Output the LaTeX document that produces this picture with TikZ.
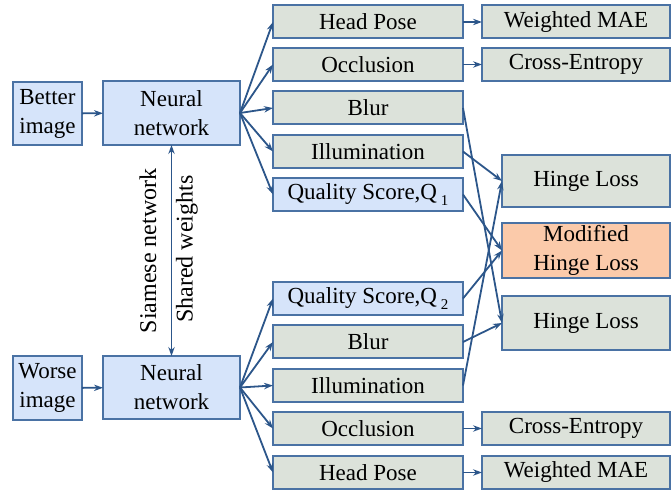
\documentclass[tikz,border=0pt]{standalone}
\usepackage{fontspec}
\setmainfont{Liberation Serif}
\usetikzlibrary{arrows.meta}
\definecolor{bfill}{RGB}{214,228,250}
\definecolor{gfill}{RGB}{220,226,218}
\definecolor{ofill}{RGB}{251,202,170}
\definecolor{edge}{RGB}{74,114,164}
\definecolor{wire}{RGB}{44,86,138}
\tikzset{
  box/.style={draw=edge, line width=1pt, inner sep=0pt, outer sep=0pt, align=center,
    font=\fontsize{11.5}{14.5}\selectfont},
  bluebox/.style={box, fill=bfill},
  graybox/.style={box, fill=gfill},
  orangebox/.style={box, fill=ofill},
  midbox/.style={minimum width=95pt, minimum height=16.5pt},
  rightbox/.style={minimum width=94pt, minimum height=16.5pt},
  hingebox/.style={minimum width=84pt},
  wirearrow/.style={draw=wire, line width=0.9pt, -{Stealth[length=4.5pt,width=3.2pt]}},
  sidelabel/.style={rotate=90, font=\fontsize{12}{14}\selectfont, inner sep=0pt}
}
\newcommand{\subq}[1]{\,\raisebox{-0.55ex}{\fontsize{7.5}{8}\selectfont #1}}
\begin{document}
\begin{tikzpicture}[x=0.5pt,y=-0.5pt]
\useasboundingbox (0,0) rectangle (671,491);
% inputs and networks
\node[bluebox, minimum width=34.5pt, minimum height=31.5pt] (better) at (47.5,113.5) {Better\\image};
\node[bluebox, minimum width=68.5pt, minimum height=32pt] (nn1) at (171.5,113) {Neural\\network};
\node[bluebox, minimum width=34.5pt, minimum height=32pt] (worse) at (47.5,388) {Worse\\image};
\node[bluebox, minimum width=68.5pt, minimum height=31.5pt] (nn2) at (171.5,387.5) {Neural\\network};
% middle column, top
\node[graybox, midbox] (hp1) at (368,22) {Head Pose};
\node[graybox, midbox] (occ1) at (368,64.5) {Occlusion};
\node[graybox, midbox] (blur1) at (368,108) {Blur};
\node[graybox, midbox] (ill1) at (368,151.5) {Illumination};
\node[bluebox, midbox] (q1) at (368,194.5) {Quality Score,Q\subq{1}};
% middle column, bottom
\node[bluebox, midbox] (q2) at (368,298.5) {Quality Score,Q\subq{2}};
\node[graybox, midbox] (blur2) at (368,342) {Blur};
\node[graybox, midbox] (ill2) at (368,385.5) {Illumination};
\node[graybox, midbox] (occ2) at (368,428.5) {Occlusion};
\node[graybox, midbox] (hp2) at (368,472.5) {Head Pose};
% right column
\node[graybox, rightbox] (mae1) at (576,22) {Weighted MAE};
\node[graybox, rightbox] (ce1) at (576,64.5) {Cross-Entropy};
\node[graybox, rightbox] (ce2) at (576,428.5) {Cross-Entropy};
\node[graybox, rightbox] (mae2) at (576,472.5) {Weighted MAE};
\node[graybox, hingebox, minimum height=26pt] (hl1) at (586,181) {Hinge Loss};
\node[orangebox, hingebox, minimum height=27.5pt] (mhl) at (586,250.5) {Modified\\Hinge Loss};
\node[graybox, hingebox, minimum height=27pt] (hl2) at (586,323) {Hinge Loss};
% side labels
\node[sidelabel] (siam) at (148,251) {Siamese network};
\node[sidelabel] (shared) at (187,249) {Shared weights};
% connectors
\draw[wirearrow] (better) -- (nn1);
\draw[wirearrow] (worse) -- (nn2);
\draw[draw=wire, line width=0.9pt, {Stealth[length=4.5pt,width=3.2pt]}-{Stealth[length=4.5pt,width=3.2pt]}] (nn1) -- (nn2);
\foreach \t in {hp1,occ1,blur1,ill1,q1}{\draw[wirearrow] (nn1.east) -- (\t.west);}
\foreach \t in {q2,blur2,ill2,occ2,hp2}{\draw[wirearrow] (nn2.east) -- (\t.west);}
\draw[wirearrow] (hp1) -- (mae1);
\draw[wirearrow] (occ1) -- (ce1);
\draw[wirearrow] (occ2) -- (ce2);
\draw[wirearrow] (hp2) -- (mae2);
\draw[wirearrow] (blur1.east) -- (hl2.west);
\draw[wirearrow] (ill1.east) -- (hl1.west);
\draw[wirearrow] (q1.east) -- (mhl.west);
\draw[wirearrow] (q2.east) -- (mhl.west);
\draw[wirearrow] (blur2.east) -- (hl2.west);
\draw[wirearrow] (ill2.east) -- (hl1.west);
\end{tikzpicture}
\end{document}
